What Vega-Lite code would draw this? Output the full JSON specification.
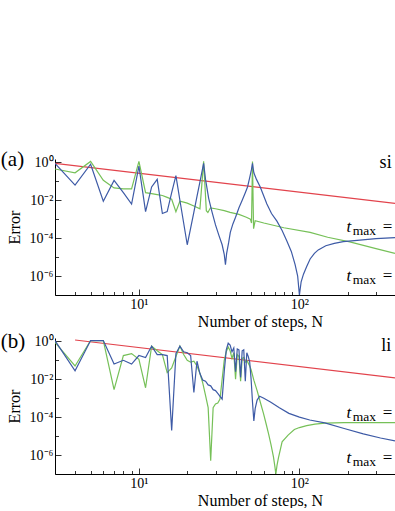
{
  "$schema": "https://vega.github.io/schema/vega-lite/v6.json",
  "background": "white",
  "padding": {"left": 0, "top": 149, "right": 0, "bottom": 0},
  "autosize": {"type": "pad"},
  "config": {
    "view": {"stroke": null},
    "font": "Liberation Serif",
    "axis": {
      "grid": false,
      "domainColor": "black",
      "domainWidth": 1,
      "tickColor": "black",
      "tickWidth": 0.8,
      "labelFont": "Liberation Serif",
      "labelFontSize": 14,
      "labelColor": "black",
      "titleFont": "Liberation Serif",
      "titleFontSize": 16,
      "titleFontWeight": "normal",
      "titleColor": "black",
      "labelOverlap": false,
      "labelFlush": false
    }
  },
  "datasets": {
    "one": [{}],
    "a": [
      {"N": 3, "err": 0.89, "s": "red"},
      {"N": 394, "err": 0.00678, "s": "red"},
      {"N": 3, "err": 0.447, "s": "green"},
      {"N": 4, "err": 0.282, "s": "green"},
      {"N": 5, "err": 1.12, "s": "green"},
      {"N": 6, "err": 0.112, "s": "green"},
      {"N": 7, "err": 0.0447, "s": "green"},
      {"N": 8, "err": 0.0398, "s": "green"},
      {"N": 9, "err": 0.0398, "s": "green"},
      {"N": 10, "err": 1.12, "s": "green"},
      {"N": 11, "err": 0.0251, "s": "green"},
      {"N": 12, "err": 0.0224, "s": "green"},
      {"N": 13, "err": 0.02, "s": "green"},
      {"N": 14, "err": 0.0178, "s": "green"},
      {"N": 15, "err": 0.0141, "s": "green"},
      {"N": 16, "err": 0.0112, "s": "green"},
      {"N": 17, "err": 0.00251, "s": "green"},
      {"N": 18, "err": 0.00891, "s": "green"},
      {"N": 19, "err": 0.00794, "s": "green"},
      {"N": 20, "err": 0.00708, "s": "green"},
      {"N": 22, "err": 0.00501, "s": "green"},
      {"N": 24, "err": 0.00355, "s": "green"},
      {"N": 25.3, "err": 1.12, "s": "green"},
      {"N": 26.3, "err": 0.00282, "s": "green"},
      {"N": 26.9, "err": 0.00224, "s": "green"},
      {"N": 27.9, "err": 0.00398, "s": "green"},
      {"N": 30, "err": 0.00355, "s": "green"},
      {"N": 34, "err": 0.00282, "s": "green"},
      {"N": 37, "err": 0.00229, "s": "green"},
      {"N": 42, "err": 0.00178, "s": "green"},
      {"N": 46.7, "err": 0.00126, "s": "green"},
      {"N": 49.5, "err": 0.001, "s": "green"},
      {"N": 50.3, "err": 0.000631, "s": "green"},
      {"N": 51, "err": 1.12, "s": "green"},
      {"N": 51.8, "err": 0.000316, "s": "green"},
      {"N": 53, "err": 0.000832, "s": "green"},
      {"N": 60, "err": 0.000631, "s": "green"},
      {"N": 80, "err": 0.000355, "s": "green"},
      {"N": 116.6, "err": 0.0002, "s": "green"},
      {"N": 150, "err": 0.000112, "s": "green"},
      {"N": 206, "err": 0.0000631, "s": "green"},
      {"N": 300, "err": 0.0000282, "s": "green"},
      {"N": 394, "err": 0.0000158, "s": "green"},
      {"N": 3, "err": 0.891, "s": "blue"},
      {"N": 4, "err": 0.0631, "s": "blue"},
      {"N": 5, "err": 0.794, "s": "blue"},
      {"N": 6, "err": 0.00891, "s": "blue"},
      {"N": 7, "err": 0.112, "s": "blue"},
      {"N": 8, "err": 0.0251, "s": "blue"},
      {"N": 9, "err": 0.00631, "s": "blue"},
      {"N": 10, "err": 0.631, "s": "blue"},
      {"N": 11, "err": 0.00251, "s": "blue"},
      {"N": 12, "err": 0.0501, "s": "blue"},
      {"N": 13, "err": 0.126, "s": "blue"},
      {"N": 14, "err": 0.002, "s": "blue"},
      {"N": 15, "err": 0.00251, "s": "blue"},
      {"N": 16, "err": 0.0251, "s": "blue"},
      {"N": 17, "err": 0.2, "s": "blue"},
      {"N": 18, "err": 0.01, "s": "blue"},
      {"N": 19, "err": 0.000631, "s": "blue"},
      {"N": 20, "err": 0.0000447, "s": "blue"},
      {"N": 21, "err": 0.000339, "s": "blue"},
      {"N": 22, "err": 0.00234, "s": "blue"},
      {"N": 23, "err": 0.0162, "s": "blue"},
      {"N": 24, "err": 0.0933, "s": "blue"},
      {"N": 25.3, "err": 0.891, "s": "blue"},
      {"N": 26, "err": 0.126, "s": "blue"},
      {"N": 27.2, "err": 0.0126, "s": "blue"},
      {"N": 28.5, "err": 0.00251, "s": "blue"},
      {"N": 30, "err": 0.000501, "s": "blue"},
      {"N": 31.5, "err": 0.000141, "s": "blue"},
      {"N": 33, "err": 0.0000447, "s": "blue"},
      {"N": 34, "err": 0.0000141, "s": "blue"},
      {"N": 34.6, "err": 0.00000398, "s": "blue"},
      {"N": 35.2, "err": 0.0000158, "s": "blue"},
      {"N": 36.2, "err": 0.0000562, "s": "blue"},
      {"N": 37.1, "err": 0.0002, "s": "blue"},
      {"N": 38.5, "err": 0.000562, "s": "blue"},
      {"N": 40, "err": 0.00126, "s": "blue"},
      {"N": 42, "err": 0.00398, "s": "blue"},
      {"N": 44, "err": 0.01, "s": "blue"},
      {"N": 46, "err": 0.0251, "s": "blue"},
      {"N": 47.5, "err": 0.0501, "s": "blue"},
      {"N": 49, "err": 0.158, "s": "blue"},
      {"N": 50.2, "err": 0.398, "s": "blue"},
      {"N": 51, "err": 0.891, "s": "blue"},
      {"N": 52, "err": 0.282, "s": "blue"},
      {"N": 54, "err": 0.126, "s": "blue"},
      {"N": 57, "err": 0.0501, "s": "blue"},
      {"N": 62.7, "err": 0.00631, "s": "blue"},
      {"N": 67, "err": 0.002, "s": "blue"},
      {"N": 72.4, "err": 0.000794, "s": "blue"},
      {"N": 78, "err": 0.000251, "s": "blue"},
      {"N": 83.5, "err": 0.0000708, "s": "blue"},
      {"N": 89, "err": 0.00002, "s": "blue"},
      {"N": 94, "err": 0.00000398, "s": "blue"},
      {"N": 97.5, "err": 0.000001, "s": "blue"},
      {"N": 100, "err": 0.0000001, "s": "blue"},
      {"N": 102.5, "err": 0.0000005, "s": "blue"},
      {"N": 106, "err": 0.00000126, "s": "blue"},
      {"N": 111, "err": 0.00000316, "s": "blue"},
      {"N": 116.6, "err": 0.00000794, "s": "blue"},
      {"N": 124, "err": 0.0000158, "s": "blue"},
      {"N": 131, "err": 0.000024, "s": "blue"},
      {"N": 146, "err": 0.0000398, "s": "blue"},
      {"N": 165, "err": 0.0000525, "s": "blue"},
      {"N": 187.5, "err": 0.0000661, "s": "blue"},
      {"N": 238, "err": 0.0000794, "s": "blue"},
      {"N": 300, "err": 0.0000933, "s": "blue"},
      {"N": 394, "err": 0.000107, "s": "blue"}
    ],
    "b": [
      {"N": 4, "err": 1.175, "s": "red"},
      {"N": 394, "err": 0.0119, "s": "red"},
      {"N": 3, "err": 0.891, "s": "green"},
      {"N": 4, "err": 0.0501, "s": "green"},
      {"N": 5, "err": 1.1, "s": "green"},
      {"N": 6, "err": 1.1, "s": "green"},
      {"N": 7, "err": 0.00282, "s": "green"},
      {"N": 8, "err": 0.178, "s": "green"},
      {"N": 9, "err": 0.224, "s": "green"},
      {"N": 10, "err": 0.112, "s": "green"},
      {"N": 11, "err": 0.00355, "s": "green"},
      {"N": 12, "err": 0.562, "s": "green"},
      {"N": 13, "err": 0.316, "s": "green"},
      {"N": 14, "err": 0.2, "s": "green"},
      {"N": 15, "err": 0.0224, "s": "green"},
      {"N": 16, "err": 0.0398, "s": "green"},
      {"N": 17, "err": 0.158, "s": "green"},
      {"N": 18, "err": 0.562, "s": "green"},
      {"N": 19, "err": 0.2, "s": "green"},
      {"N": 20, "err": 0.1, "s": "green"},
      {"N": 21, "err": 0.0794, "s": "green"},
      {"N": 22, "err": 0.0891, "s": "green"},
      {"N": 23, "err": 0.0501, "s": "green"},
      {"N": 24, "err": 0.02, "s": "green"},
      {"N": 25, "err": 0.00631, "s": "green"},
      {"N": 26, "err": 0.00141, "s": "green"},
      {"N": 27, "err": 0.000316, "s": "green"},
      {"N": 28, "err": 0.000000501, "s": "green"},
      {"N": 29, "err": 0.000316, "s": "green"},
      {"N": 30, "err": 0.000501, "s": "green"},
      {"N": 31, "err": 0.000562, "s": "green"},
      {"N": 32, "err": 0.000891, "s": "green"},
      {"N": 33, "err": 0.01, "s": "green"},
      {"N": 34, "err": 0.1, "s": "green"},
      {"N": 35, "err": 0.282, "s": "green"},
      {"N": 36, "err": 0.501, "s": "green"},
      {"N": 37, "err": 0.316, "s": "green"},
      {"N": 38, "err": 0.126, "s": "green"},
      {"N": 39, "err": 0.251, "s": "green"},
      {"N": 40, "err": 0.01, "s": "green"},
      {"N": 41, "err": 0.2, "s": "green"},
      {"N": 42, "err": 0.158, "s": "green"},
      {"N": 43, "err": 0.00794, "s": "green"},
      {"N": 44, "err": 0.126, "s": "green"},
      {"N": 45, "err": 0.141, "s": "green"},
      {"N": 46, "err": 0.0794, "s": "green"},
      {"N": 47, "err": 0.1, "s": "green"},
      {"N": 48, "err": 0.0708, "s": "green"},
      {"N": 49, "err": 0.0501, "s": "green"},
      {"N": 50, "err": 0.0316, "s": "green"},
      {"N": 52, "err": 0.00891, "s": "green"},
      {"N": 54.5, "err": 0.00251, "s": "green"},
      {"N": 57, "err": 0.000631, "s": "green"},
      {"N": 59.7, "err": 0.000158, "s": "green"},
      {"N": 62, "err": 0.0000447, "s": "green"},
      {"N": 64.3, "err": 0.0000126, "s": "green"},
      {"N": 66.5, "err": 0.00000355, "s": "green"},
      {"N": 68.9, "err": 0.000000794, "s": "green"},
      {"N": 70.3, "err": 0.000000251, "s": "green"},
      {"N": 71.3, "err": 0.0000001, "s": "green"},
      {"N": 72.5, "err": 0.000000282, "s": "green"},
      {"N": 74, "err": 0.000000708, "s": "green"},
      {"N": 78, "err": 0.00000501, "s": "green"},
      {"N": 85, "err": 0.0000112, "s": "green"},
      {"N": 93, "err": 0.0000224, "s": "green"},
      {"N": 100, "err": 0.0000282, "s": "green"},
      {"N": 111, "err": 0.0000355, "s": "green"},
      {"N": 125, "err": 0.0000427, "s": "green"},
      {"N": 144, "err": 0.0000479, "s": "green"},
      {"N": 190, "err": 0.0000513, "s": "green"},
      {"N": 394, "err": 0.0000513, "s": "green"},
      {"N": 3, "err": 1.1, "s": "blue"},
      {"N": 4, "err": 0.0282, "s": "blue"},
      {"N": 5, "err": 1.1, "s": "blue"},
      {"N": 6, "err": 1.1, "s": "blue"},
      {"N": 7, "err": 0.0631, "s": "blue"},
      {"N": 8, "err": 0.1, "s": "blue"},
      {"N": 9, "err": 0.0631, "s": "blue"},
      {"N": 10, "err": 0.178, "s": "blue"},
      {"N": 11, "err": 0.141, "s": "blue"},
      {"N": 12, "err": 0.562, "s": "blue"},
      {"N": 13, "err": 0.2, "s": "blue"},
      {"N": 14, "err": 0.2, "s": "blue"},
      {"N": 15, "err": 0.178, "s": "blue"},
      {"N": 16, "err": 0.00002, "s": "blue"},
      {"N": 17, "err": 0.224, "s": "blue"},
      {"N": 18, "err": 0.562, "s": "blue"},
      {"N": 19, "err": 0.282, "s": "blue"},
      {"N": 20, "err": 0.251, "s": "blue"},
      {"N": 21, "err": 0.178, "s": "blue"},
      {"N": 22, "err": 0.002, "s": "blue"},
      {"N": 23, "err": 0.0891, "s": "blue"},
      {"N": 24, "err": 0.02, "s": "blue"},
      {"N": 25, "err": 0.00891, "s": "blue"},
      {"N": 26, "err": 0.00794, "s": "blue"},
      {"N": 27, "err": 0.00501, "s": "blue"},
      {"N": 28, "err": 0.00447, "s": "blue"},
      {"N": 29, "err": 0.00282, "s": "blue"},
      {"N": 30, "err": 0.00251, "s": "blue"},
      {"N": 31, "err": 0.00178, "s": "blue"},
      {"N": 32, "err": 0.00126, "s": "blue"},
      {"N": 33, "err": 0.000891, "s": "blue"},
      {"N": 34, "err": 0.0251, "s": "blue"},
      {"N": 35, "err": 0.355, "s": "blue"},
      {"N": 36, "err": 0.794, "s": "blue"},
      {"N": 37, "err": 0.631, "s": "blue"},
      {"N": 38, "err": 0.282, "s": "blue"},
      {"N": 39, "err": 0.447, "s": "blue"},
      {"N": 40, "err": 0.0251, "s": "blue"},
      {"N": 41, "err": 0.398, "s": "blue"},
      {"N": 42, "err": 0.355, "s": "blue"},
      {"N": 43, "err": 0.0126, "s": "blue"},
      {"N": 44, "err": 0.316, "s": "blue"},
      {"N": 45, "err": 0.355, "s": "blue"},
      {"N": 46, "err": 0.00794, "s": "blue"},
      {"N": 47, "err": 0.251, "s": "blue"},
      {"N": 48, "err": 0.158, "s": "blue"},
      {"N": 49, "err": 0.0794, "s": "blue"},
      {"N": 50, "err": 0.01, "s": "blue"},
      {"N": 51, "err": 0.000631, "s": "blue"},
      {"N": 52, "err": 0.0000631, "s": "blue"},
      {"N": 53, "err": 0.000282, "s": "blue"},
      {"N": 54.5, "err": 0.000794, "s": "blue"},
      {"N": 56.5, "err": 0.00126, "s": "blue"},
      {"N": 60, "err": 0.001, "s": "blue"},
      {"N": 66, "err": 0.000631, "s": "blue"},
      {"N": 75, "err": 0.000316, "s": "blue"},
      {"N": 86, "err": 0.000158, "s": "blue"},
      {"N": 100, "err": 0.0001, "s": "blue"},
      {"N": 116, "err": 0.0000708, "s": "blue"},
      {"N": 144, "err": 0.0000501, "s": "blue"},
      {"N": 190, "err": 0.0000251, "s": "blue"},
      {"N": 250, "err": 0.0000132, "s": "blue"},
      {"N": 320, "err": 0.00000794, "s": "blue"},
      {"N": 394, "err": 0.00000562, "s": "blue"}
    ]
  },
  "bounds": "flush",
  "spacing": 43,
  "vconcat": [
    {
      "width": 340,
      "height": 136,
      "layer": [
        {
          "data": {"name": "a"},
          "mark": {"type": "line", "strokeWidth": 1.2, "clip": true},
          "encoding": {
            "x": {"field": "N", "type": "quantitative",
              "scale": {"type": "log", "domain": [3, 394], "nice": false},
              "axis": {"values": [3,4,5,6,7,8,9,10,20,30,40,50,60,70,80,90,100,200,300],
                "labelExpr": "datum.value == 10 ? '10¹' : datum.value == 100 ? '10²' : ''",
                "tickSize": {"expr": "datum.value == 10 || datum.value == 100 ? -6 : -3.5"},
                "labelPadding": 8,
                "title": "Number of steps, N", "titleX": 205, "titleY": 31, "titleBaseline": "alphabetic"}},
            "y": {"field": "err", "type": "quantitative",
              "scale": {"type": "log", "domain": [1e-7, 1.5], "nice": false},
              "axis": {"values": [1e-6,1e-5,1e-4,1e-3,1e-2,1e-1,1],
                "labelExpr": "datum.value > 0.5 ? '10⁰' : (datum.value > 0.005 && datum.value < 0.02) ? '10⁻²' : (datum.value > 0.00005 && datum.value < 0.0002) ? '10⁻⁴' : (datum.value > 0.0000005 && datum.value < 0.000002) ? '10⁻⁶' : ''",
                "tickSize": {"expr": "(datum.value > 0.5 || (datum.value > 0.005 && datum.value < 0.02) || (datum.value > 0.00005 && datum.value < 0.0002) || (datum.value > 0.0000005 && datum.value < 0.000002)) ? -6 : -3.5"},
                "labelPadding": 8,
                "title": "Error", "titlePadding": 7}},
            "color": {"field": "s", "type": "nominal",
              "scale": {"domain": ["red","green","blue"], "range": ["#e2434c","#76c058","#3d5aa6"]},
              "legend": null}
          }
        },
        {"data": {"name": "one"}, "mark": {"type": "text", "text": "(a)", "align": "left", "baseline": "middle", "fontSize": 21}, "encoding": {"x": {"datum": 1.38}, "y": {"datum": 1.26}}},
        {"data": {"name": "one"}, "mark": {"type": "text", "text": "si", "align": "left", "baseline": "alphabetic", "fontSize": 18}, "encoding": {"x": {"datum": 316}, "y": {"datum": 0.5}}},
        {"data": {"name": "one"}, "mark": {"type": "text", "text": "t", "align": "left", "baseline": "alphabetic", "fontSize": 17, "fontStyle": "italic"}, "encoding": {"x": {"datum": 196.5}, "y": {"datum": 0.0002}}},
        {"data": {"name": "one"}, "mark": {"type": "text", "text": "max", "align": "left", "baseline": "alphabetic", "fontSize": 13.5}, "encoding": {"x": {"datum": 215}, "y": {"datum": 0.000141}}},
        {"data": {"name": "one"}, "mark": {"type": "text", "text": "=", "align": "left", "baseline": "alphabetic", "fontSize": 17}, "encoding": {"x": {"datum": 330}, "y": {"datum": 0.0002}}},
        {"data": {"name": "one"}, "mark": {"type": "text", "text": "t", "align": "left", "baseline": "alphabetic", "fontSize": 17, "fontStyle": "italic"}, "encoding": {"x": {"datum": 196.5}, "y": {"datum": 0.00000055}}},
        {"data": {"name": "one"}, "mark": {"type": "text", "text": "max", "align": "left", "baseline": "alphabetic", "fontSize": 13.5}, "encoding": {"x": {"datum": 215}, "y": {"datum": 0.00000038}}},
        {"data": {"name": "one"}, "mark": {"type": "text", "text": "=", "align": "left", "baseline": "alphabetic", "fontSize": 17}, "encoding": {"x": {"datum": 330}, "y": {"datum": 0.00000055}}}
      ]
    },
    {
      "width": 340,
      "height": 136,
      "layer": [
        {
          "data": {"name": "b"},
          "mark": {"type": "line", "strokeWidth": 1.2, "clip": true},
          "encoding": {
            "x": {"field": "N", "type": "quantitative",
              "scale": {"type": "log", "domain": [3, 394], "nice": false},
              "axis": {"values": [3,4,5,6,7,8,9,10,20,30,40,50,60,70,80,90,100,200,300],
                "labelExpr": "datum.value == 10 ? '10¹' : datum.value == 100 ? '10²' : ''",
                "tickSize": {"expr": "datum.value == 10 || datum.value == 100 ? -6 : -3.5"},
                "labelPadding": 8,
                "title": "Number of steps, N", "titleX": 205, "titleY": 31, "titleBaseline": "alphabetic"}},
            "y": {"field": "err", "type": "quantitative",
              "scale": {"type": "log", "domain": [1e-7, 1.5], "nice": false},
              "axis": {"values": [1e-6,1e-5,1e-4,1e-3,1e-2,1e-1,1],
                "labelExpr": "datum.value > 0.5 ? '10⁰' : (datum.value > 0.005 && datum.value < 0.02) ? '10⁻²' : (datum.value > 0.00005 && datum.value < 0.0002) ? '10⁻⁴' : (datum.value > 0.0000005 && datum.value < 0.000002) ? '10⁻⁶' : ''",
                "tickSize": {"expr": "(datum.value > 0.5 || (datum.value > 0.005 && datum.value < 0.02) || (datum.value > 0.00005 && datum.value < 0.0002) || (datum.value > 0.0000005 && datum.value < 0.000002)) ? -6 : -3.5"},
                "labelPadding": 8,
                "title": "Error", "titlePadding": 7}},
            "color": {"field": "s", "type": "nominal",
              "scale": {"domain": ["red","green","blue"], "range": ["#e2434c","#76c058","#3d5aa6"]},
              "legend": null}
          }
        },
        {"data": {"name": "one"}, "mark": {"type": "text", "text": "(b)", "align": "left", "baseline": "middle", "fontSize": 21}, "encoding": {"x": {"datum": 1.38}, "y": {"datum": 0.89}}},
        {"data": {"name": "one"}, "mark": {"type": "text", "text": "li", "align": "left", "baseline": "alphabetic", "fontSize": 18}, "encoding": {"x": {"datum": 324}, "y": {"datum": 0.295}}},
        {"data": {"name": "one"}, "mark": {"type": "text", "text": "t", "align": "left", "baseline": "alphabetic", "fontSize": 17, "fontStyle": "italic"}, "encoding": {"x": {"datum": 196.5}, "y": {"datum": 0.000091}}},
        {"data": {"name": "one"}, "mark": {"type": "text", "text": "max", "align": "left", "baseline": "alphabetic", "fontSize": 13.5}, "encoding": {"x": {"datum": 215}, "y": {"datum": 0.000064}}},
        {"data": {"name": "one"}, "mark": {"type": "text", "text": "=", "align": "left", "baseline": "alphabetic", "fontSize": 17}, "encoding": {"x": {"datum": 330}, "y": {"datum": 0.000091}}},
        {"data": {"name": "one"}, "mark": {"type": "text", "text": "t", "align": "left", "baseline": "alphabetic", "fontSize": 17, "fontStyle": "italic"}, "encoding": {"x": {"datum": 196.5}, "y": {"datum": 0.000000398}}},
        {"data": {"name": "one"}, "mark": {"type": "text", "text": "max", "align": "left", "baseline": "alphabetic", "fontSize": 13.5}, "encoding": {"x": {"datum": 215}, "y": {"datum": 0.000000275}}},
        {"data": {"name": "one"}, "mark": {"type": "text", "text": "=", "align": "left", "baseline": "alphabetic", "fontSize": 17}, "encoding": {"x": {"datum": 330}, "y": {"datum": 0.000000398}}}
      ]
    }
  ]
}
